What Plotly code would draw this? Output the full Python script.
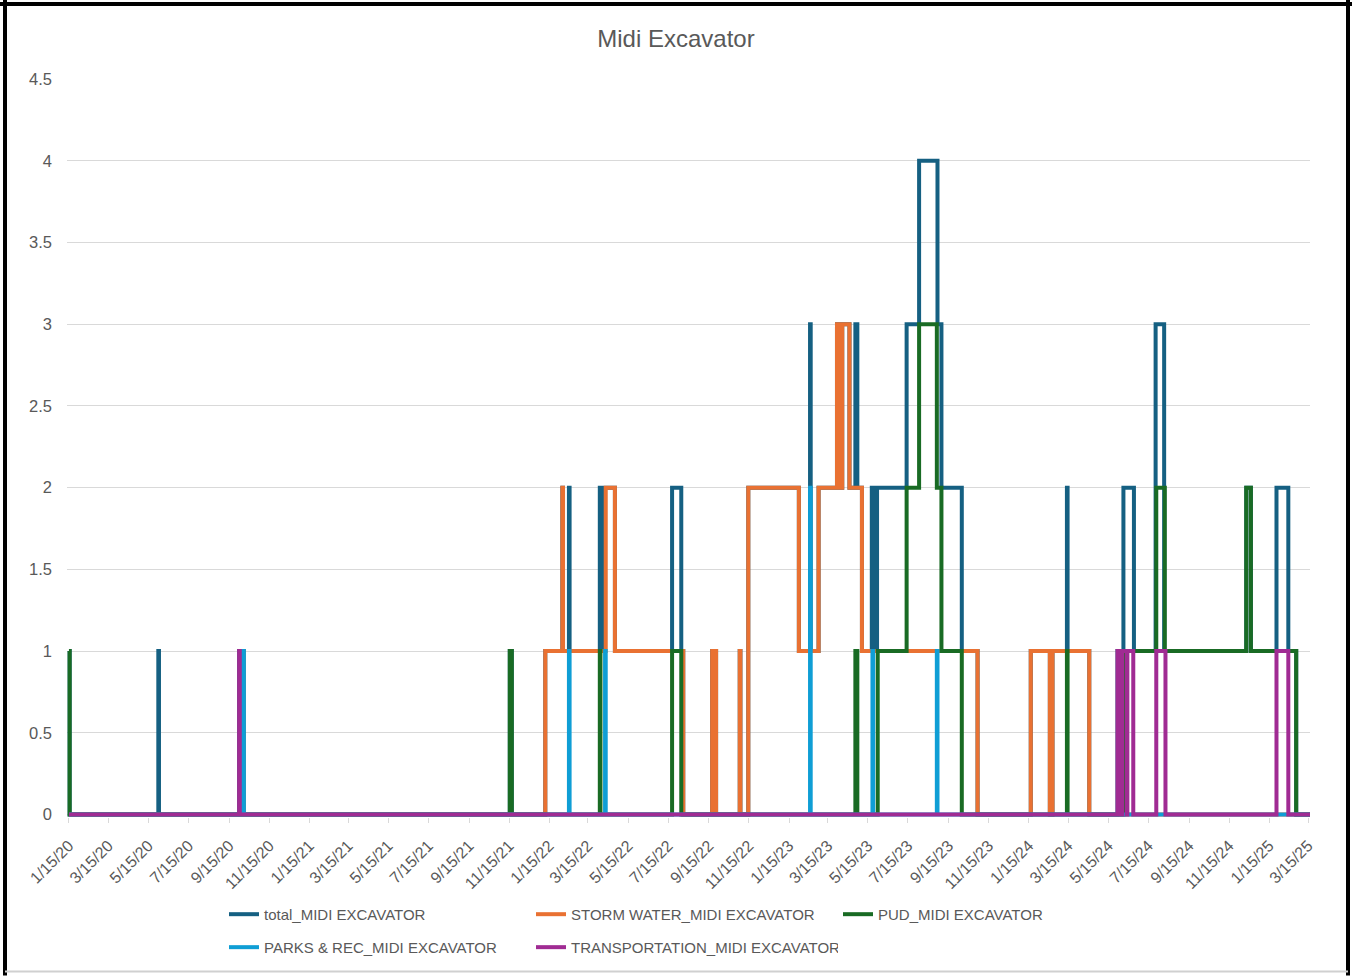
import plotly.graph_objects as go

# ---------------- DATA (step change points) ----------------
tick_dates = ["2020-01-15", "2020-03-15", "2020-05-15", "2020-07-15", "2020-09-15", "2020-11-15",
              "2021-01-15", "2021-03-15", "2021-05-15", "2021-07-15", "2021-09-15", "2021-11-15",
              "2022-01-15", "2022-03-15", "2022-05-15", "2022-07-15", "2022-09-15", "2022-11-15",
              "2023-01-15", "2023-03-15", "2023-05-15", "2023-07-15", "2023-09-15", "2023-11-15",
              "2024-01-15", "2024-03-15", "2024-05-15", "2024-07-15", "2024-09-15", "2024-11-15",
              "2025-01-15", "2025-03-15"]
tick_labels = ["1/15/20", "3/15/20", "5/15/20", "7/15/20", "9/15/20", "11/15/20",
               "1/15/21", "3/15/21", "5/15/21", "7/15/21", "9/15/21", "11/15/21",
               "1/15/22", "3/15/22", "5/15/22", "7/15/22", "9/15/22", "11/15/22",
               "1/15/23", "3/15/23", "5/15/23", "7/15/23", "9/15/23", "11/15/23",
               "1/15/24", "3/15/24", "5/15/24", "7/15/24", "9/15/24", "11/15/24",
               "1/15/25", "3/15/25"]

total_dates = ["2020-01-15", "2020-01-16", "2020-05-30", "2020-05-31", "2020-09-30", "2020-10-01",
               "2020-10-06", "2020-10-07", "2021-11-16", "2021-11-19", "2022-01-09", "2022-02-04",
               "2022-02-05", "2022-02-14", "2022-02-15", "2022-04-02", "2022-04-05", "2022-04-10",
               "2022-04-25", "2022-07-21", "2022-08-04", "2022-08-07", "2022-09-20", "2022-09-26",
               "2022-11-01", "2022-11-02", "2022-11-14", "2023-01-30", "2023-02-16", "2023-02-17",
               "2023-03-01", "2023-03-29", "2023-04-04", "2023-04-06", "2023-04-17", "2023-04-26",
               "2023-04-29", "2023-05-06", "2023-05-21", "2023-05-24", "2023-05-29", "2023-07-13",
               "2023-08-01", "2023-08-29", "2023-09-04", "2023-10-05", "2023-10-29", "2024-01-18",
               "2024-02-16", "2024-02-20", "2024-03-13", "2024-03-14", "2024-04-16", "2024-05-29",
               "2024-06-07", "2024-06-23", "2024-07-26", "2024-08-08", "2024-12-11", "2024-12-18",
               "2025-01-26", "2025-02-13", "2025-02-25", "2025-03-18"]
total_values = [1, 0, 1, 0, 1, 0,
                1, 0, 1, 0, 1, 2,
                1, 2, 1, 2, 1, 2,
                1, 2, 1, 0, 1, 0,
                1, 0, 2, 1, 3, 1,
                2, 3, 2, 3, 2, 3,
                2, 1, 2, 1, 2, 3,
                4, 3, 2, 1, 0, 1,
                0, 1, 2, 1, 0, 1,
                2, 1, 3, 1, 2, 1,
                2, 1, 0, 0]

storm_dates = ["2020-01-15", "2022-01-09", "2022-02-04", "2022-02-05", "2022-04-11", "2022-04-25",
               "2022-08-07", "2022-09-20", "2022-09-26", "2022-11-01", "2022-11-02", "2022-11-14",
               "2023-01-30", "2023-03-01", "2023-03-29", "2023-04-04", "2023-04-06", "2023-04-17",
               "2023-05-06", "2023-10-29", "2024-01-18", "2024-02-16", "2024-02-20", "2024-04-16",
               "2025-03-18"]
storm_values = [0, 1, 2, 1, 2, 1,
                0, 1, 0, 1, 0, 2,
                1, 2, 3, 2, 3, 2,
                1, 0, 1, 0, 1, 0,
                0]

pud_dates = ["2020-01-15", "2020-01-16", "2021-11-16", "2021-11-19", "2022-04-02", "2022-04-03",
             "2022-07-21", "2022-08-04", "2023-04-26", "2023-04-29", "2023-05-30", "2023-07-13",
             "2023-08-01", "2023-08-28", "2023-09-04", "2023-10-05", "2024-03-13", "2024-03-14",
             "2024-06-07", "2024-07-27", "2024-08-09", "2024-12-11", "2024-12-18", "2025-02-25",
             "2025-03-18"]
pud_values = [1, 0, 1, 0, 1, 0,
              1, 0, 1, 0, 1, 2,
              3, 2, 1, 0, 1, 0,
              1, 2, 1, 2, 1, 0,
              0]

parks_dates = ["2020-01-15", "2020-10-06", "2020-10-07", "2022-02-14", "2022-02-15", "2022-04-10",
               "2022-04-11", "2023-02-16", "2023-02-17", "2023-05-22", "2023-05-23", "2023-08-28",
               "2023-08-29", "2025-03-18"]
parks_values = [0, 1, 0, 1, 0, 1,
                0, 2, 0, 1, 0, 1,
                0, 0]

transport_dates = ["2020-01-15", "2020-09-30", "2020-10-01", "2024-05-29", "2024-05-31", "2024-06-02",
                   "2024-06-04", "2024-06-05", "2024-06-12", "2024-06-13", "2024-06-22", "2024-07-27",
                   "2024-08-10", "2025-01-26", "2025-02-13", "2025-03-18"]
transport_values = [0, 1, 0, 1, 0, 1,
                    0, 1, 0, 1, 0, 1,
                    0, 1, 0, 0]

series_names = ["total_MIDI EXCAVATOR", "STORM WATER_MIDI EXCAVATOR", "PUD_MIDI EXCAVATOR",
                "PARKS & REC_MIDI EXCAVATOR", "TRANSPORTATION_MIDI EXCAVATOR"]
series_colors = ["#156082", "#E97132", "#196B24", "#0F9ED5", "#A02B93"]
series_legend = ["legend", "legend", "legend", "legend2", "legend2"]
series_data = [(total_dates, total_values), (storm_dates, storm_values), (pud_dates, pud_values),
               (parks_dates, parks_values), (transport_dates, transport_values)]

# ---------------- LAYOUT GEOMETRY ----------------
W, H = 1352, 976
ML, MR, MT, MB = 67, 42, 79, 158.5
PW = W - ML - MR
PH = H - MT - MB


def xp(px):
    return (px - ML) / PW


def yp(py):
    return (H - MB - py) / PH


FONT = "Liberation Sans, Arial, sans-serif"
TXT = "#595959"

fig = go.Figure()
for (d, v), name, col, lg in zip(series_data, series_names, series_colors, series_legend):
    fig.add_trace(go.Scatter(
        x=d, y=v, name=name, mode="lines", line=dict(color=col, width=4, shape="hv"),
        legend=lg, hoverinfo="x+y+name"))

fig.update_layout(
    width=W, height=H,
    margin=dict(l=ML, r=MR, t=MT, b=MB, autoexpand=False),
    paper_bgcolor="white", plot_bgcolor="white",
    font=dict(family=FONT, color=TXT, size=15),
    title=dict(text="Midi Excavator", x=0.5, xanchor="center", y=1 - 39 / H, yanchor="middle",
               font=dict(family=FONT, size=24, color=TXT)),
    xaxis=dict(type="date", range=["2020-01-12", "2025-03-18"],
               tickmode="array", tickvals=tick_dates, ticktext=tick_labels, tickangle=-45,
               ticks="outside", ticklen=5, tickcolor="#d9d9d9", showgrid=False, showline=False,
               zeroline=False, tickfont=dict(size=16, color=TXT), ticklabelstandoff=7),
    yaxis=dict(range=[-0.015, 4.5], tickmode="linear", tick0=0, dtick=0.5,
               showgrid=True, gridcolor="#d9d9d9", gridwidth=1, zeroline=False, showline=False,
               tickfont=dict(size=16.5, color=TXT), ticklabelstandoff=14),
    legend=dict(orientation="h", x=xp(224), xanchor="left", y=yp(915), yanchor="middle",
                entrywidth=262, entrywidthmode="pixels", font=dict(size=15, color=TXT),
                bgcolor="rgba(0,0,0,0)", itemclick=False),
    legend2=dict(orientation="h", x=xp(224), xanchor="left", y=yp(948), yanchor="middle",
                 entrywidth=262, entrywidthmode="pixels", font=dict(size=15, color=TXT),
                 bgcolor="rgba(0,0,0,0)", itemclick=False),
    showlegend=True,
)

# outer frame of the picture
fig.add_shape(type="line", xref="paper", yref="paper", x0=xp(5), x1=xp(5), y0=yp(0), y1=yp(976),
              line=dict(color="black", width=4))
fig.add_shape(type="line", xref="paper", yref="paper", x0=xp(0), x1=xp(1352), y0=yp(4), y1=yp(4),
              line=dict(color="black", width=4))
fig.add_shape(type="line", xref="paper", yref="paper", x0=xp(1348), x1=xp(1348), y0=yp(0), y1=yp(976),
              line=dict(color="black", width=4))
fig.add_shape(type="line", xref="paper", yref="paper", x0=xp(5), x1=xp(1348), y0=yp(972), y1=yp(972),
              line=dict(color="#d0d0d0", width=2))

fig.write_html("out.html", config={"displayModeBar": False},
               post_script="document.body.style.margin='0px';")
